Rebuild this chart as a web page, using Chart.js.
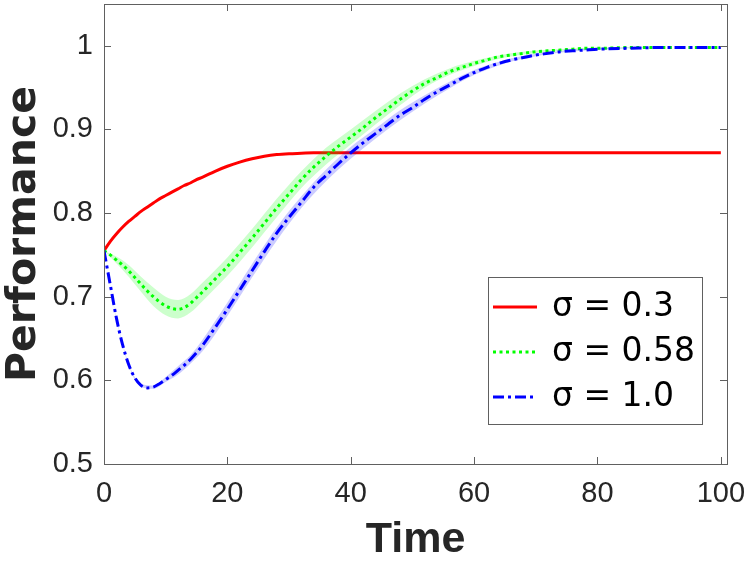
<!DOCTYPE html>
<html>
<head>
<meta charset="utf-8">
<script src="https://cdn.jsdelivr.net/npm/chart.js@4.4.1/dist/chart.umd.min.js"></script>
<style>
  html, body { margin: 0; padding: 0; background: #fff; }
</style>
</head>
<body>
<canvas id="myChart" width="750" height="562"></canvas>
<script>
// time grid shared by the three curves
var time = [0,1,2,3,4,5,6,7,8,9,10,11,12,13,14,15,16,18,20,22,24,26,28,30,32,34,36,38,40,42,44,46,48,50,52,54,56,58,60,62,64,66,68,70,72,74,76,78,80,85,90,95,100];

var sigma03 = [0.755,0.766,0.775,0.783,0.790,0.796,0.802,0.807,0.812,0.817,0.821,0.825,0.829,0.833,0.836,0.840,0.843,
  0.850,0.856,0.861,0.865,0.868,0.870,0.871,0.8715,
  0.872,0.872,0.872,0.872,0.872,0.872,0.872,0.872,0.872,0.872,0.872,0.872,0.872,0.872,0.872,0.872,0.872,0.872,0.872,0.872,0.872,0.872,0.872,0.872,
  0.872,0.872,0.872,0.872];

var sigma058 = [0.755,0.750,0.744,0.738,0.731,0.723,0.715,0.707,0.700,0.694,0.689,0.686,0.685,0.687,0.692,0.699,0.706,
  0.721,0.736,0.753,0.770,0.788,0.806,0.823,0.840,0.855,0.868,0.880,0.891,0.902,0.914,0.925,0.936,0.946,0.955,0.962,0.969,0.974,0.979,
  0.983,0.987,0.989,0.991,0.993,0.994,0.995,0.996,0.997,0.997,0.998,0.998,0.998,0.998];

var sigma10 = [0.755,0.715,0.675,0.643,0.619,0.603,0.594,0.591,0.592,0.596,0.601,0.606,0.612,0.618,0.625,0.633,0.642,
  0.663,0.685,0.708,0.731,0.754,0.776,0.795,0.813,0.831,0.845,0.859,0.872,0.884,0.895,0.906,0.917,0.926,0.936,0.945,0.953,0.961,0.968,
  0.974,0.979,0.983,0.986,0.989,0.991,0.993,0.994,0.995,0.996,0.997,0.998,0.998,0.998];

// shaded spread bands (coarser grid)
var bandTime = [0,2,4,6,8,10,12,14,16,20,24,28,32,36,40,44,48,52,56,60,65,70,75,80,90,100];
var green_hi = [0.755,0.748,0.738,0.724,0.711,0.700,0.696,0.703,0.717,0.747,0.781,0.817,0.850,0.878,0.900,0.922,0.943,0.960,0.973,0.982,0.990,0.9945,0.9965,0.998,0.998,0.998];
var green_lo = [0.755,0.740,0.724,0.706,0.689,0.678,0.674,0.681,0.695,0.725,0.759,0.795,0.830,0.858,0.882,0.906,0.929,0.950,0.965,0.976,0.986,0.9915,0.9945,0.996,0.998,0.998];
var blue_hi = [0.755,0.676,0.620,0.596,0.594,0.604,0.617,0.630,0.649,0.693,0.739,0.783,0.820,0.852,0.879,0.901,0.923,0.941,0.957,0.971,0.983,0.9905,0.9945,0.997,0.998,0.998];
var blue_lo = [0.755,0.674,0.618,0.592,0.590,0.598,0.607,0.620,0.635,0.677,0.723,0.767,0.806,0.838,0.865,0.889,0.911,0.931,0.949,0.965,0.979,0.9875,0.9925,0.995,0.998,0.998];

var seriesNames = ['σ = 0.3', 'σ = 0.58', 'σ = 1.0'];
var xTicks = [0, 20, 40, 60, 80, 100];
var yTicks = [0.5, 0.6, 0.7, 0.8, 0.9, 1];
var yTickLabels = ['0.5', '0.6', '0.7', '0.8', '0.9', '1'];

function pts(xs, ys) {
  return xs.map(function (x, i) { return { x: x, y: ys[i] }; });
}

function lineSet(label, data, color, dash) {
  return {
    label: label, data: data, borderColor: color, borderWidth: 3,
    borderDash: dash, pointRadius: 0, fill: false,
    cubicInterpolationMode: 'monotone'
  };
}
function bandSet(data, color, fill) {
  return {
    label: '', data: data, borderWidth: 0, borderColor: 'rgba(0,0,0,0)',
    backgroundColor: color, pointRadius: 0, fill: fill,
    cubicInterpolationMode: 'monotone'
  };
}

// first dataset is drawn on top
var datasets = [
  lineSet(seriesNames[2], pts(time, sigma10), '#0000ff', [11, 4, 3, 4]),
  bandSet(pts(bandTime, blue_hi), 'rgba(0,0,255,0.2)', '+1'),
  bandSet(pts(bandTime, blue_lo), 'rgba(0,0,255,0.2)', false),
  lineSet(seriesNames[1], pts(time, sigma058), '#00ff00', [3, 3.5]),
  bandSet(pts(bandTime, green_hi), 'rgba(0,255,0,0.2)', '+1'),
  bandSet(pts(bandTime, green_lo), 'rgba(0,255,0,0.2)', false),
  lineSet(seriesNames[0], pts(time, sigma03), '#ff0000', [])
];

// MATLAB-like box, inward ticks and legend
var axesBox = {
  id: 'axesBox',
  afterDraw: function (chart) {
    var ctx = chart.ctx, a = chart.chartArea;
    var xs = chart.scales.x, ys = chart.scales.y;
    ctx.save();
    ctx.strokeStyle = '#606060';
    ctx.lineWidth = 1;
    ctx.strokeRect(a.left + 0.5, a.top + 0.5, a.right - a.left, a.bottom - a.top);
    ctx.beginPath();
    xs.ticks.forEach(function (t) {
      var px = Math.round(xs.getPixelForValue(t.value)) + 0.5;
      ctx.moveTo(px, a.bottom); ctx.lineTo(px, a.bottom - 7);
      ctx.moveTo(px, a.top); ctx.lineTo(px, a.top + 7);
    });
    ys.ticks.forEach(function (t) {
      var py = Math.round(ys.getPixelForValue(t.value)) + 0.5;
      ctx.moveTo(a.left, py); ctx.lineTo(a.left + 7, py);
      ctx.moveTo(a.right, py); ctx.lineTo(a.right - 7, py);
    });
    ctx.stroke();

    // legend box
    var bw = 214, bh = 147;
    var bx = a.right - 25 - bw, by = a.bottom - 40 - bh;
    ctx.fillStyle = '#fff';
    ctx.fillRect(bx, by, bw, bh);
    ctx.strokeRect(bx + 0.5, by + 0.5, bw, bh);
    var rows = [30, 75, 120];
    var order = [6, 3, 0];
    ctx.font = '33px "DejaVu Sans"';
    ctx.textBaseline = 'middle';
    order.forEach(function (di, i) {
      var ds = chart.data.datasets[di];
      var y = by + rows[i];
      ctx.beginPath();
      ctx.setLineDash(ds.borderDash);
      ctx.strokeStyle = ds.borderColor;
      ctx.lineWidth = 3;
      ctx.moveTo(bx + 5, y); ctx.lineTo(bx + 49, y);
      ctx.stroke();
      ctx.setLineDash([]);
      ctx.fillStyle = '#000';
      ctx.fillText(ds.label, bx + 64, y);
    });
    ctx.restore();
  }
};

var ctx = document.getElementById('myChart').getContext('2d');
var chart = new Chart(ctx, {
  type: 'line',
  data: { datasets: datasets },
  plugins: [axesBox],
  options: {
    responsive: false,
    animation: false,
    devicePixelRatio: 1,
    layout: { padding: { top: 4, right: 23, bottom: 0, left: 0 } },
    plugins: { legend: { display: false }, tooltip: { enabled: false } },
    scales: {
      x: {
        type: 'linear', min: 0, max: 101,
        grid: { display: false, drawTicks: false },
        border: { display: false },
        afterBuildTicks: function (s) { s.ticks = xTicks.map(function (v) { return { value: v }; }); },
        afterFit: function (s) { s.height = 98; s.paddingLeft = 0; s.paddingRight = 0; },
        ticks: {
          padding: 13, color: '#262626', maxRotation: 0,
          font: { family: 'Liberation Sans', size: 29 },
          callback: function (v) { return String(v); }
        },
        title: {
          display: true, text: 'Time', color: '#262626',
          font: { family: 'Liberation Sans', size: 43, weight: 'bold', lineHeight: 1 },
          padding: { top: 0, bottom: 0 }
        }
      },
      y: {
        type: 'linear', min: 0.5, max: 1.05,
        grid: { display: false, drawTicks: false },
        border: { display: false },
        afterBuildTicks: function (s) { s.ticks = yTicks.map(function (v) { return { value: v }; }); },
        afterFit: function (s) { s.width = 104; s.paddingTop = 0; s.paddingBottom = 0; },
        ticks: {
          padding: 11, color: '#262626',
          font: { family: 'Liberation Sans', size: 29 },
          callback: function (v) { var i = yTicks.indexOf(v); return i >= 0 ? yTickLabels[i] : ''; }
        },
        title: {
          display: true, text: 'Performance', color: '#262626',
          font: { family: 'DejaVu Sans', size: 41, weight: 'bold', lineHeight: 1 },
          padding: { top: 4, bottom: 0 }
        }
      }
    }
  }
});
</script>
</body>
</html>
